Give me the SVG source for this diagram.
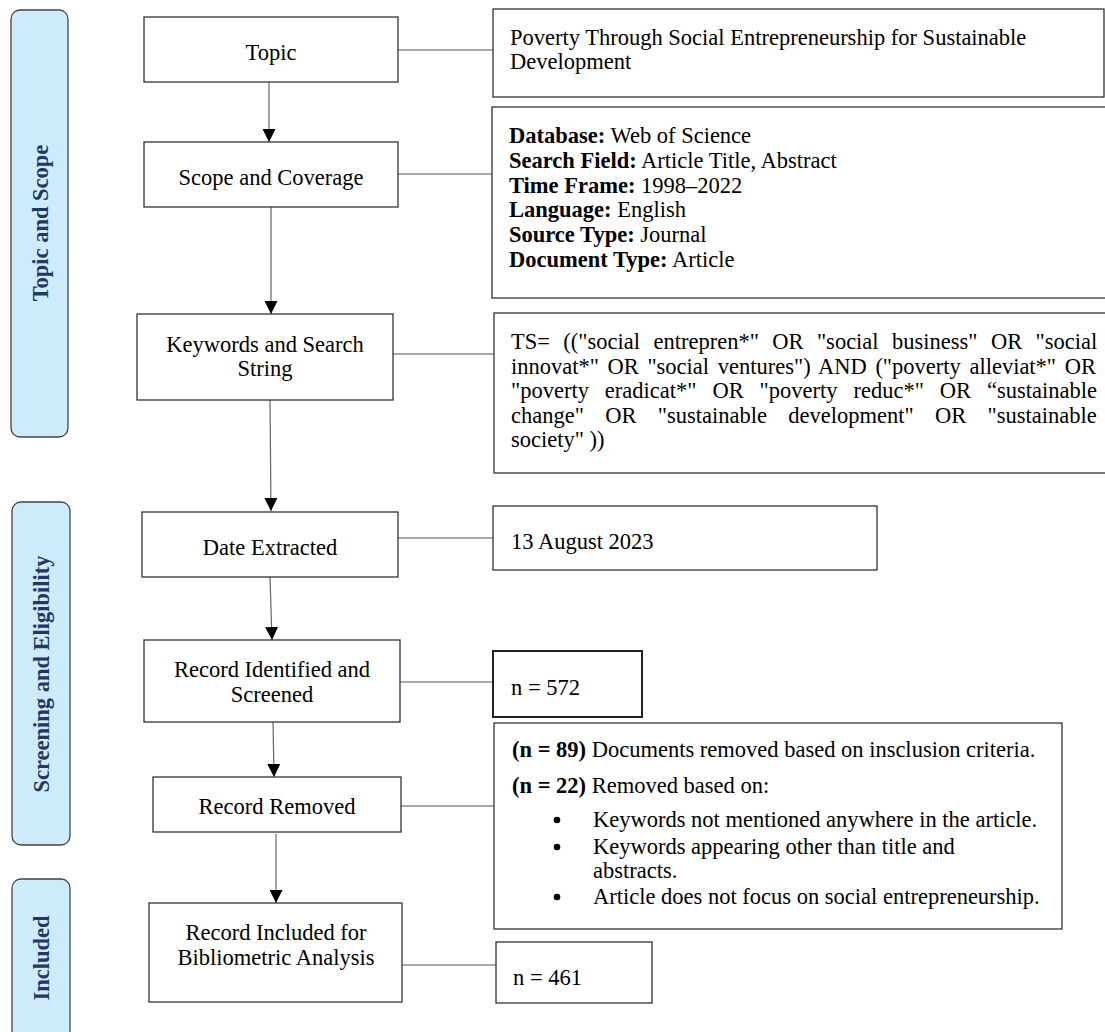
<svg xmlns="http://www.w3.org/2000/svg" width="1105" height="1032" viewBox="0 0 1105 1032">
<defs>
<marker id="ah" markerUnits="userSpaceOnUse" markerWidth="13" markerHeight="13" refX="13" refY="6.5" orient="auto">
<path d="M0,0 L13,6.5 L0,13 Z" fill="#000"/>
</marker>
<style>
text{font-family:"Liberation Serif","Times New Roman",serif;font-size:22.5px;fill:#000}
.box{fill:#fff;stroke:#333;stroke-width:1.3}
.side{fill:#CDEBFB;stroke:#444;stroke-width:1.3}
.stitle{font-weight:bold;fill:#1F3864}
.c{text-anchor:middle}
.b{font-weight:bold}
.ln{stroke:#555;stroke-width:1.2;fill:none}
.ar{stroke:#666;stroke-width:1.2;fill:none;marker-end:url(#ah)}
.dot{fill:#000}
</style>
</defs>
<rect width="1105" height="1032" fill="#fff"/>

<g id="side-topic-scope">
<rect class="side" x="11" y="10" width="57" height="427" rx="9"/>
<text class="stitle c" transform="translate(48,223) rotate(-90)">Topic and Scope</text>
</g>
<g id="side-screening">
<rect class="side" x="12" y="502" width="58" height="343" rx="9"/>
<text class="stitle c" transform="translate(49,674) rotate(-90)">Screening and Eligibility</text>
</g>
<g id="side-included">
<rect class="side" x="12" y="879" width="58" height="161" rx="9"/>
<text class="stitle c" transform="translate(49,958) rotate(-90)">Included</text>
</g>

<g id="connectors">
<line class="ar" x1="269" y1="82" x2="269" y2="142"/>
<line class="ar" x1="271" y1="207" x2="271" y2="314"/>
<line class="ar" x1="270" y1="400" x2="271" y2="511"/>
<line class="ar" x1="270" y1="577" x2="272" y2="640"/>
<line class="ar" x1="273" y1="722" x2="274" y2="777"/>
<line class="ar" x1="276" y1="834" x2="276" y2="903"/>
<line class="ln" x1="398" y1="50" x2="493" y2="50"/>
<line class="ln" x1="398" y1="174" x2="492" y2="174"/>
<line class="ln" x1="393" y1="354" x2="494" y2="354"/>
<line class="ln" x1="398" y1="538" x2="493" y2="538"/>
<line class="ln" x1="400" y1="682" x2="493" y2="682"/>
<line class="ln" x1="401" y1="806" x2="494" y2="806"/>
<line class="ln" x1="402" y1="965" x2="496" y2="965"/>
</g>

<g id="topic">
<rect class="box" x="144" y="17" width="254" height="65"/>
<text class="c" x="271" y="60">Topic</text>
</g>
<g id="scope">
<rect class="box" x="144" y="142" width="254" height="65"/>
<text class="c" x="271" y="185">Scope and Coverage</text>
</g>
<g id="keywords">
<rect class="box" x="137" y="314" width="256" height="86"/>
<text class="c" x="265" y="352">Keywords and Search</text>
<text class="c" x="265" y="376">String</text>
</g>
<g id="date">
<rect class="box" x="142" y="512" width="256" height="65"/>
<text class="c" x="270" y="555">Date Extracted</text>
</g>
<g id="identified">
<rect class="box" x="144" y="640" width="256" height="82"/>
<text class="c" x="272" y="677">Record Identified and</text>
<text class="c" x="272" y="702">Screened</text>
</g>
<g id="removed">
<rect class="box" x="153" y="777" width="248" height="55"/>
<text class="c" x="277" y="814">Record Removed</text>
</g>
<g id="included">
<rect class="box" x="149" y="903" width="253" height="99"/>
<text class="c" x="276" y="940">Record Included for</text>
<text class="c" x="276" y="965">Bibliometric Analysis</text>
</g>

<g id="topic-detail">
<rect class="box" x="493" y="9" width="611" height="88"/>
<text x="510" y="45">Poverty Through Social Entrepreneurship for Sustainable</text>
<text x="510" y="69">Development</text>
</g>
<g id="scope-detail">
<rect class="box" x="492" y="107" width="616" height="191"/>
<text x="509" y="143"><tspan class="b">Database:</tspan> Web of Science</text>
<text x="509" y="168"><tspan class="b">Search Field:</tspan> Article Title, Abstract</text>
<text x="509" y="193"><tspan class="b">Time Frame:</tspan> 1998–2022</text>
<text x="509" y="217"><tspan class="b">Language:</tspan> English</text>
<text x="509" y="242"><tspan class="b">Source Type:</tspan> Journal</text>
<text x="509" y="267"><tspan class="b">Document Type:</tspan> Article</text>
</g>
<g id="keywords-detail">
<rect class="box" x="494" y="313" width="614" height="160"/>
<text x="511" y="349" word-spacing="7.8">TS= (("social entrepren*" OR "social business" OR "social</text>
<text x="511" y="374" word-spacing="3">innovat*" OR "social ventures") AND ("poverty alleviat*" OR</text>
<text x="511" y="398" word-spacing="10.3">"poverty eradicat*" OR "poverty reduc*" OR “sustainable</text>
<text x="511" y="423" word-spacing="15.7">change" OR "sustainable development" OR "sustainable</text>
<text x="511" y="447">society" ))</text>
</g>
<g id="date-detail">
<rect class="box" x="493" y="506" width="384" height="64"/>
<text x="511" y="549">13 August 2023</text>
</g>
<g id="identified-detail">
<rect class="box" x="493" y="651" width="149" height="66" style="stroke:#222;stroke-width:2"/>
<text x="511" y="695">n = 572</text>
</g>
<g id="removed-detail">
<rect class="box" x="494" y="723" width="568" height="206"/>
<text x="512" y="757"><tspan class="b">(n = 89)</tspan> Documents removed based on insclusion criteria.</text>
<text x="512" y="793"><tspan class="b">(n = 22)</tspan> Removed based on:</text>
<circle class="dot" cx="557" cy="820" r="3.3"/>
<text x="593" y="827">Keywords not mentioned anywhere in the article.</text>
<circle class="dot" cx="557" cy="847" r="3.3"/>
<text x="593" y="854">Keywords appearing other than title and</text>
<text x="593" y="878">abstracts.</text>
<circle class="dot" cx="557" cy="897" r="3.3"/>
<text x="593" y="904">Article does not focus on social entrepreneurship.</text>
</g>
<g id="included-detail">
<rect class="box" x="496" y="942" width="156" height="61"/>
<text x="513" y="985">n = 461</text>
</g>
</svg>
